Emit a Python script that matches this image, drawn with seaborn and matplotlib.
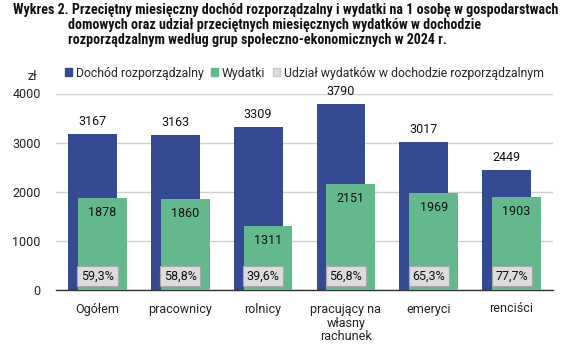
import matplotlib
matplotlib.use("Agg")
import matplotlib.pyplot as plt
import seaborn as sns
import pandas as pd
import numpy as np
from matplotlib.patches import Patch

categories = ["Ogółem", "pracownicy", "rolnicy", "pracujący na\nwłasny\nrachunek", "emeryci", "renciści"]
dochod = [3167, 3163, 3309, 3790, 3017, 2449]
wydatki = [1878, 1860, 1311, 2151, 1969, 1903]
udzial = ["59,3%", "58,8%", "39,6%", "56,8%", "65,3%", "77,7%"]
series_names = ["Dochód rozporządzalny", "Wydatki", "Udział wydatków w dochodzie rozporządzalnym"]
yticks = [0, 1000, 2000, 3000, 4000]
title_lines = [
    "Wykres 2. Przeciętny miesięczny dochód rozporządzalny i wydatki na 1 osobę w gospodarstwach",
    "domowych oraz udział przeciętnych miesięcznych wydatków w dochodzie",
    "rozporządzalnym według grup społeczno-ekonomicznych w 2024 r.",
]

BLUE = "#344a93"
GREEN = "#63b88c"
GRAYBOX = "#dcdcdc"

sns.set_theme(style="white")
plt.rcParams["font.family"] = ["Roboto", "Lato", "DejaVu Sans"]
BODY = 9

fig = plt.figure(figsize=(5.64, 3.52), dpi=100)
ax = fig.add_axes([56/564, 1-290/352, (553-56)/564, (290-93.5)/352])

df = pd.DataFrame({"cat": categories, "dochod": dochod, "wydatki": wydatki})
W = 0.59
OFF = 0.06
sns.barplot(data=df, x="cat", y="dochod", color=BLUE, width=W, saturation=1, ax=ax, zorder=2)
n_blue = len(ax.patches)
sns.barplot(data=df, x="cat", y="wydatki", color=GREEN, width=W, saturation=1, ax=ax, zorder=3)
for i, p in enumerate(ax.patches):
    p.set_edgecolor("none")
    if i < n_blue:
        p.set_x(p.get_x() - OFF)
    else:
        p.set_x(p.get_x() + OFF)
        p.set_zorder(3)

ax.set_ylim(0, 4000)
ax.set_xlim(-0.5, len(categories) - 0.5)
ax.set_yticks(yticks)
ax.set_yticklabels([str(t) for t in yticks], fontsize=BODY, color="#222222")
ax.yaxis.grid(True, color="#d0d0d0", linewidth=1)
ax.set_axisbelow(True)
for s in ["left", "right", "top"]:
    ax.spines[s].set_visible(False)
ax.spines["bottom"].set_color("#333333")
ax.spines["bottom"].set_linewidth(1)
ax.tick_params(axis="y", length=0, pad=11)
ax.set_xticks(range(len(categories)))
ax.set_xticklabels(categories, fontsize=BODY, color="#222222", linespacing=1.1)
ax.tick_params(axis="x", which="major", length=0, pad=9)
ax.set_xticks(np.arange(-0.5, len(categories), 1), minor=True)
ax.tick_params(axis="x", which="minor", length=5, width=1, color="#333333", direction="out")
ax.set_xlabel("")
ax.set_ylabel("")

blue_patches = ax.patches[:n_blue]
green_patches = ax.patches[n_blue:]
for i, p in enumerate(blue_patches):
    cx = p.get_x() + p.get_width() / 2
    ax.annotate(str(dochod[i]), (cx, dochod[i]), xytext=(0, 9), textcoords="offset points",
                ha="center", va="center", fontsize=BODY, color="#111111", annotation_clip=False)
for i, p in enumerate(green_patches):
    cx = p.get_x() + p.get_width() / 2
    ax.annotate(str(wydatki[i]), (cx, wydatki[i]), xytext=(0, -10.5), textcoords="offset points",
                ha="center", va="center", fontsize=BODY, color="#111111", zorder=5)
for i, lab in enumerate(udzial):
    ax.annotate(lab, (i, 0), xytext=(0, 10), textcoords="offset points",
                ha="center", va="center", fontsize=BODY, color="#111111", zorder=6,
                bbox=dict(boxstyle="square,pad=0.3", fc=GRAYBOX, ec="#a8a8a8", lw=0.8))

handles = [Patch(color=BLUE), Patch(color=GREEN), Patch(fc=GRAYBOX, ec="#c8c8c8")]
fig.legend(handles, series_names, loc="center left", bbox_to_anchor=(65/564, 1-73/352),
           ncol=3, frameon=False, fontsize=8.8, handlelength=0.6, handleheight=0.6,
           handletextpad=0.3, columnspacing=0.6, borderaxespad=0, borderpad=0)
fig.text(28/564, 1-76/352, "zł", fontsize=BODY, color="#222222", ha="left", va="center")

# Title, sized so that the first line spans the same width as in the reference
title_kw = dict(fontweight="bold", color="#111111", va="center", ha="left",
                family=["Roboto Condensed", "Roboto", "DejaVu Sans"])
texts = [
    fig.text(13/564, 1-10/352, title_lines[0], fontsize=10, **title_kw),
    fig.text(68/564, 1-25/352, title_lines[1], fontsize=10, **title_kw),
    fig.text(68/564, 1-40/352, title_lines[2], fontsize=10, **title_kw),
]
fig.canvas.draw()
r = fig.canvas.get_renderer()
w0 = texts[0].get_window_extent(r).width
fs = 10 * (544 / w0)
for t in texts:
    t.set_fontsize(fs)

fig.savefig("out.png", dpi=100)
